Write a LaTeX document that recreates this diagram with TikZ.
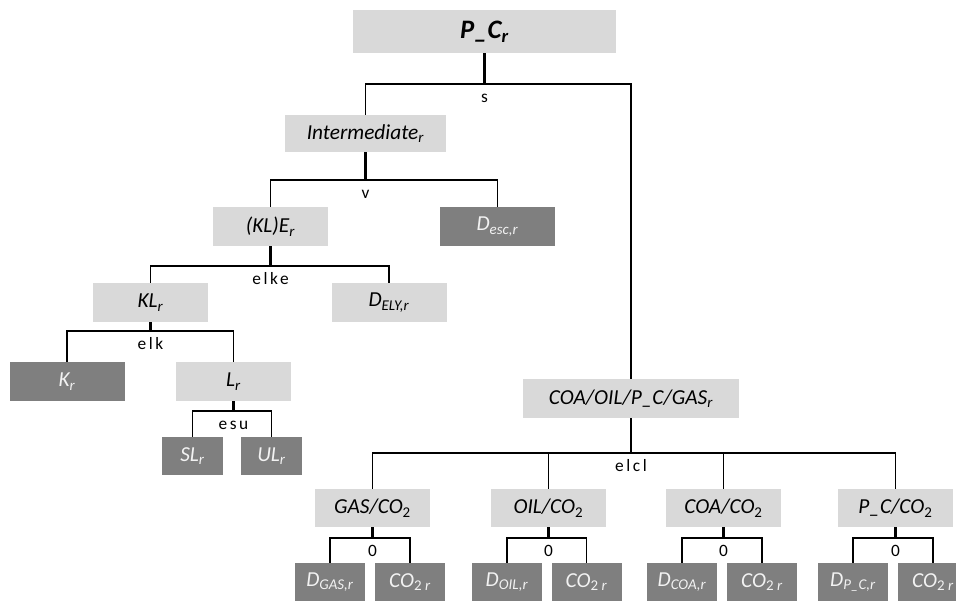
\documentclass[tikz,border=0pt]{standalone}
\usepackage{fontspec}
\setmainfont{Carlito}
\newfontfamily\labfont[LetterSpace=15]{Carlito}
\usetikzlibrary{positioning}
\definecolor{boxlight}{HTML}{D9D9D9}
\definecolor{boxdark}{HTML}{7F7F7F}
\definecolor{txtdark}{HTML}{F2F2F2}

\begin{document}
\begin{tikzpicture}[x=0.75pt, y=-0.75pt,
  nest/.style={fill=boxlight, minimum width=86.25pt, minimum height=29.25pt,
    inner sep=0pt, font=\fontsize{16}{19}\selectfont\itshape},
  leaf/.style={nest, fill=boxdark, text=txtdark},
  small/.style={minimum width=52.5pt, minimum height=28.5pt},
  toplevel/.style={nest, minimum width=197.25pt, minimum height=32.25pt,
    font=\fontsize{20}{24}\selectfont\bfseries\itshape},
  stem/.style={line width=1.9pt},
  link/.style={line width=1.2pt},
  lab/.style={font=\labfont\fontsize{13}{15}\selectfont, anchor=base,
    yshift=-14pt, inner sep=0pt}]

\useasboundingbox (0,0) rectangle (956,601);
\clip (0,0) rectangle (956,601);

% --- Top level ---
\node[toplevel] (pc) at (484.5,31.5) {P\_C\textsubscript{r}};
\coordinate (sbar) at (484.5,84);
\node[nest, minimum width=120.75pt, minimum height=27.75pt] (inter) at (365.5,133.5)
  {Intermediate\textsubscript{r}};
\node[nest, minimum width=162pt] (coa) at (631,398.5)
  {COA/OIL/P\_C/GAS\textsubscript{r}};
\draw[stem] (pc) -- (sbar);
\draw[link] (inter) |- (sbar) -| (coa);
\node[lab] (slab) at (sbar) {s};

% --- Intermediate nest ---
\coordinate (vbar) at (365.5,180);
\node[nest] (kle) at (270.5,226.5) {(KL)E\textsubscript{r}};
\node[leaf] (desc) at (497.5,226.5) {D\textsubscript{esc,r}};
\draw[stem] (inter) -- (vbar);
\draw[link] (kle) |- (vbar) -| (desc);
\node[lab] (vlab) at (vbar) {v};

% --- (KL)E nest ---
\coordinate (ebar) at (270.5,266);
\node[nest] (kl) at (150.5,302.5) {KL\textsubscript{r}};
\node[nest] (dely) at (389,302.5) {D\textsubscript{ELY,r}};
\draw[stem] (kle) -- (ebar);
\draw[link] (kl) |- (ebar) -| (dely);
\node[lab] (elkelab) at (ebar) {elke};

% --- KL nest ---
\coordinate (kbar) at (150.5,331);
\node[leaf] (kr) at (67,381.5) {K\textsubscript{r}};
\node[nest] (lr) at (233.5,381.5) {L\textsubscript{r}};
\draw[stem] (kl) -- (kbar);
\draw[link] (kr) |- (kbar) -| (lr);
\node[lab] (elklab) at (kbar) {elk};

% --- L nest ---
\coordinate (ubar) at (233.5,411);
\node[leaf, minimum width=45.75pt, minimum height=28.5pt] (slr) at (192.5,456) {SL\textsubscript{r}};
\node[leaf, minimum width=45.75pt, minimum height=28.5pt] (ulr) at (271.5,456) {UL\textsubscript{r}};
\draw[stem] (lr) -- (ubar);
\draw[link] (slr) |- (ubar) -| (ulr);
\node[lab] (esulab) at (ubar) {esu};

% --- Fuel nest ---
\coordinate (cbar) at (631,453);
\node[nest, minimum height=28.5pt] (gas) at (372.5,508) {GAS/CO\textsubscript{\upshape 2}};
\node[nest, minimum height=28.5pt] (oil) at (548.5,508) {OIL/CO\textsubscript{\upshape 2}};
\node[nest, minimum height=28.5pt] (coaco) at (723.5,508) {COA/CO\textsubscript{\upshape 2}};
\node[nest, minimum height=28.5pt] (pcco) at (895.5,508) {P\_C/CO\textsubscript{\upshape 2}};
\draw[stem] (coa) -- (cbar);
\draw[link] (gas) |- (cbar) -| (pcco);
\draw[link] (oil) -- (oil |- cbar);
\draw[link] (coaco) -- (coaco |- cbar);
\node[lab] (elcllab) at (cbar) {elcl};

% --- GAS/CO2 ---
\coordinate (gbar) at (372.5,538);
\node[leaf, small] (dgas) at (330,582) {D\textsubscript{GAS,r}};
\node[leaf, small] (cgas) at (410,582) {CO\textsubscript{\upshape 2 \itshape r}};
\draw[stem] (gas) -- (gbar);
\draw[link] (dgas) |- (gbar) -| (cgas);
\node[lab] (glab) at (gbar) {0};

% --- OIL/CO2 ---
\coordinate (obar) at (548.5,538);
\node[leaf, small] (doil) at (507,582) {D\textsubscript{OIL,r}};
\node[leaf, small] (coil) at (586.5,582) {CO\textsubscript{\upshape 2 \itshape r}};
\draw[stem] (oil) -- (obar);
\draw[link] (doil) |- (obar) -| (coil);
\node[lab] (olab) at (obar) {0};

% --- COA/CO2 ---
\coordinate (abar) at (723.5,538);
\node[leaf, small] (dcoa) at (682,582) {D\textsubscript{COA,r}};
\node[leaf, small] (ccoa) at (762,582) {CO\textsubscript{\upshape 2 \itshape r}};
\draw[stem] (coaco) -- (abar);
\draw[link] (dcoa) |- (abar) -| (ccoa);
\node[lab] (alab) at (abar) {0};

% --- P_C/CO2 ---
\coordinate (pbar) at (895.5,538);
\node[leaf, small] (dpc) at (853,582) {D\textsubscript{P\_C,r}};
\node[leaf, small] (cpc) at (933,582) {CO\textsubscript{\upshape 2 \itshape r}};
\draw[stem] (pcco) -- (pbar);
\draw[link] (dpc) |- (pbar) -| (cpc);
\node[lab] (plab) at (pbar) {0};

\end{tikzpicture}
\end{document}
